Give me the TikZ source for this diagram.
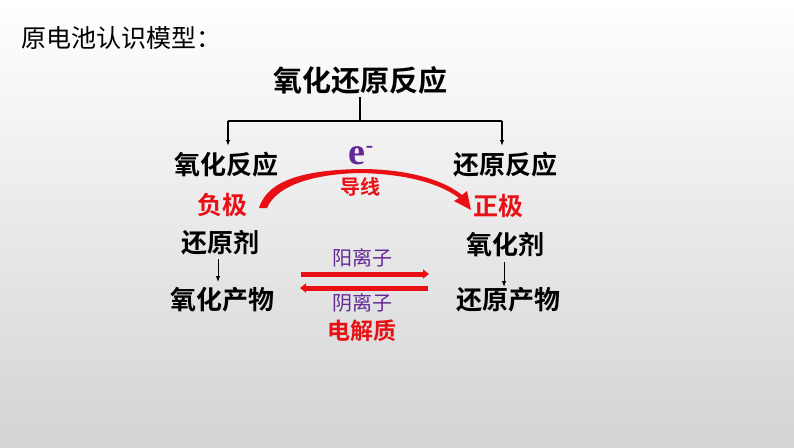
\documentclass[tikz,border=0pt]{standalone}
\usepackage{fontspec}
\newfontfamily\cjk{Noto Sans CJK SC}
\newfontfamily\cjkb{Noto Sans CJK SC Bold}
\newfontfamily\eserif{Liberation Serif}
\usetikzlibrary{arrows.meta}
\definecolor{myred}{RGB}{232,16,20}
\definecolor{mypurple}{RGB}{100,40,150}
\tikzset{
  lbl/.style={inner sep=0pt, font=\cjkb\fontsize{26}{28}\selectfont},
  big/.style={inner sep=0pt, font=\cjkb\fontsize{29}{31}\selectfont},
  pole/.style={inner sep=0pt, text=myred, font=\cjkb\fontsize{25}{27}\selectfont},
  ion/.style={inner sep=0pt, text=mypurple, font=\cjk\fontsize{20}{22}\selectfont},
  conn/.style={line width=1.2pt, -{Latex[length=6pt,width=4.5pt]}},
  small/.style={line width=1pt, -{Latex[length=6pt,width=4.5pt]}},
  redarr/.style={myred, line width=5pt, -{Triangle[length=6pt,width=9pt]}},
}
\begin{document}
\begin{tikzpicture}[x=1pt,y=-1pt]
\shade[top color=white, middle color=black!5, bottom color=black!17] (0,0) rectangle (794,447);
\useasboundingbox (0,0) rectangle (794,447);
\node[inner sep=0pt, anchor=west, font=\cjk\fontsize{25}{27}\selectfont] (title) at (21,38) {原电池认识模型：};
\node[big] (top) at (360,80) {氧化还原反应};
\node[lbl] (oxr) at (226,165) {氧化反应};
\node[lbl] (redr) at (505,165) {还原反应};
\node[inner sep=0pt, text=mypurple, font=\eserif\bfseries\fontsize{38}{40}\selectfont] (e) at (361,156) {e\raisebox{12pt}{\fontsize{22}{22}\selectfont -}};
\node[inner sep=0pt, text=myred, font=\cjkb\fontsize{20}{22}\selectfont] (wire) at (360,187) {导线};
\node[pole] (neg) at (222,205) {负极};
\node[pole] (pos) at (498,206) {正极};
\node[lbl] (redag) at (220,243) {还原剂};
\node[lbl] (oxag) at (505,245) {氧化剂};
\node[lbl] (oxp) at (222,300) {氧化产物};
\node[lbl] (redp) at (508,300) {还原产物};
\node[ion] (cat) at (362,258) {阳离子};
\node[ion] (an) at (362,303) {阴离子};
\node[inner sep=0pt, text=myred, font=\cjkb\fontsize{23}{25}\selectfont] (elec) at (362,331) {电解质};
% tree
\coordinate (br) at (360,121);
\coordinate (bl) at (228,121);
\coordinate (bR) at (502,121);
\draw[line width=1.2pt] (top.south) ++(0,3) -- (br);
\draw[line width=1.2pt] (bl) -- (bR);
\draw[conn] (bl) -- (228,146);
\draw[conn] (bR) -- (502,146);
% small arrows
\draw[small] (218,259) -- (218,282);
\draw[small] (504,262) -- (504,287);
% electron arrow
\fill[myred] (259,208) .. controls (268,178) and (310,170) .. (360,169)
  .. controls (410,169) and (445,181) .. (462,195)
  -- (467,191) -- (471,210) -- (454,201) -- (459,198)
  .. controls (442,185) and (410,174) .. (360,173)
  .. controls (314,174) and (277,185) .. (267,208) -- cycle;
% ion arrows
\coordinate (a1) at (301,274);
\coordinate (a2) at (429,274);
\coordinate (b1) at (428,288);
\coordinate (b2) at (300,288);
\draw[redarr] (a1) -- (a2);
\draw[redarr] (b1) -- (b2);
\end{tikzpicture}
\end{document}
